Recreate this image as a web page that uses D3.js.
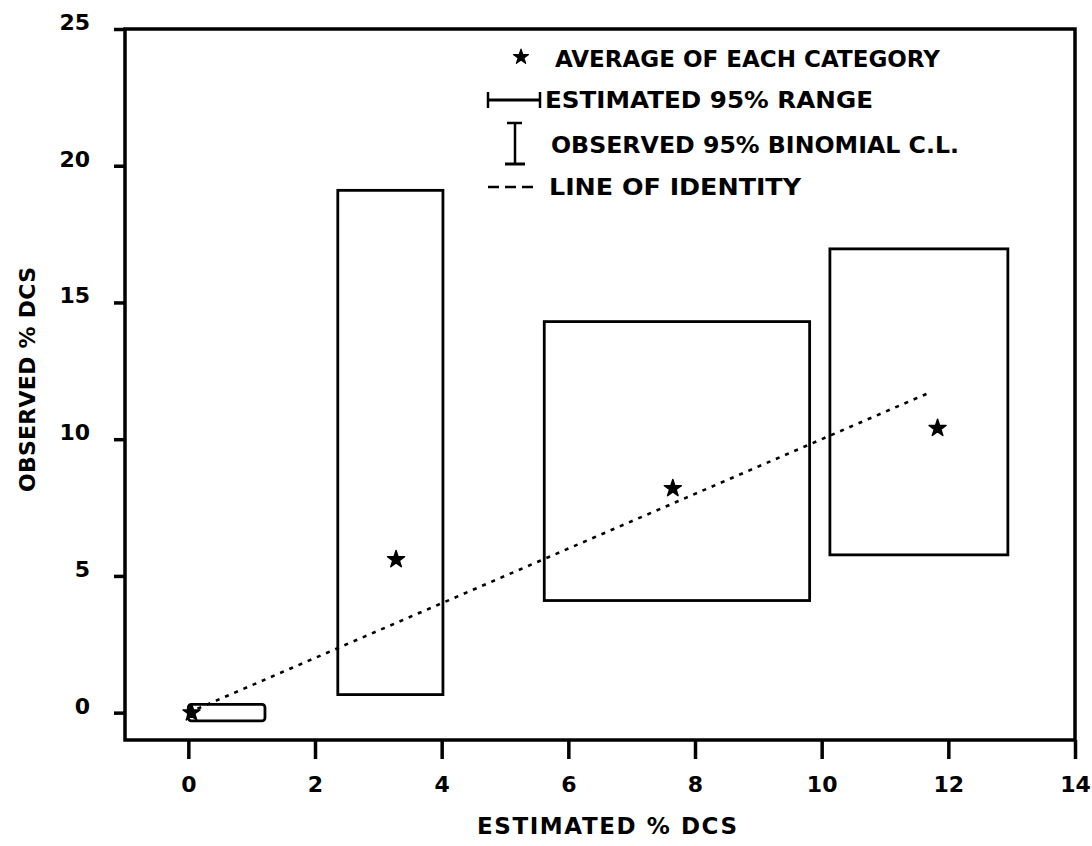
<!DOCTYPE html>
<html>
<head>
<meta charset="utf-8">
<script src="https://cdn.jsdelivr.net/npm/d3@7"></script>
<style>
  html, body { margin: 0; padding: 0; background: #fff; }
  svg { display: block; }
  text { font-family: "DejaVu Sans", sans-serif; fill: #000; }
</style>
</head>
<body>
<script>
// Category averages (estimated % DCS vs observed % DCS)
const avgEstimated = [0.05, 3.28, 7.65, 11.83];
const avgObserved  = [0.0, 5.6, 8.2, 10.4];

// Estimated 95% range (horizontal extent of each box)
const estLow  = [0.0, 2.36, 5.62, 10.13];
const estHigh = [1.21, 4.02, 9.81, 12.94];

// Observed 95% binomial confidence limits (vertical extent of each box)
const obsLow  = [-0.3, 0.66, 4.1, 5.77];
const obsHigh = [0.3, 19.1, 14.3, 16.96];

// Line of identity end points
const identity = [0, 11.7];

const xTicks = [0, 2, 4, 6, 8, 10, 12, 14];
const yTicks = [0, 5, 10, 15, 20, 25];

const legendLabels = [
  "AVERAGE OF EACH CATEGORY",
  "ESTIMATED 95% RANGE",
  "OBSERVED 95% BINOMIAL C.L.",
  "LINE OF IDENTITY"
];

const W = 1092, H = 846;
const plot = { left: 125, right: 1075, top: 29, bottom: 740 };

const x = d3.scaleLinear().domain([-1, 14]).range([plot.left, plot.right]);
const y = d3.scaleLinear().domain([-1, 25]).range([plot.bottom, plot.top]);

const svg = d3.select("body").append("svg")
  .attr("width", W).attr("height", H);

// Frame
svg.append("rect")
  .attr("x", plot.left).attr("y", plot.top)
  .attr("width", plot.right - plot.left).attr("height", plot.bottom - plot.top)
  .attr("fill", "none").attr("stroke", "#000").attr("stroke-width", 3.5);

// X axis
const xAxis = svg.append("g")
  .attr("transform", `translate(0,${plot.bottom})`)
  .call(d3.axisBottom(x).tickValues(xTicks).tickSize(19).tickPadding(17).tickFormat(d3.format("d")));
xAxis.select(".domain").remove();
xAxis.selectAll(".tick line").attr("stroke", "#000").attr("stroke-width", 3.5);
xAxis.selectAll(".tick text").attr("font-size", 22).attr("font-weight", 700);

// Y axis (labels sit slightly above their ticks)
const yAxis = svg.append("g")
  .attr("transform", `translate(${plot.left},0)`)
  .call(d3.axisLeft(y).tickValues(yTicks).tickSize(11).tickPadding(24).tickFormat(d3.format("d")));
yAxis.select(".domain").remove();
yAxis.selectAll(".tick line").attr("stroke", "#000").attr("stroke-width", 3.5);
yAxis.selectAll(".tick text").attr("font-size", 22).attr("font-weight", 700)
  .attr("dy", "0.02em");

// Axis titles
svg.append("text")
  .attr("x", 477).attr("y", 834)
  .attr("font-size", 23).attr("font-weight", 700)
  .attr("textLength", 260).attr("lengthAdjust", "spacing")
  .text("ESTIMATED % DCS");

svg.append("text")
  .attr("transform", `translate(35,492) rotate(-90)`)
  .attr("font-size", 22).attr("font-weight", 700)
  .attr("textLength", 225).attr("lengthAdjust", "spacing")
  .text("OBSERVED % DCS");

// Boxes: estimated range x observed confidence limits
const idx = d3.range(avgEstimated.length);
svg.append("g").selectAll("rect").data(idx).join("rect")
  .attr("x", i => x(estLow[i]))
  .attr("y", i => y(obsHigh[i]))
  .attr("width", i => x(estHigh[i]) - x(estLow[i]))
  .attr("height", i => y(obsLow[i]) - y(obsHigh[i]))
  .attr("rx", i => i === 0 ? 3 : 0)
  .attr("fill", "none").attr("stroke", "#000").attr("stroke-width", 2.8);

// Line of identity
svg.append("line")
  .attr("x1", x(identity[0])).attr("y1", y(identity[0]))
  .attr("x2", x(identity[1])).attr("y2", y(identity[1]))
  .attr("stroke", "#000").attr("stroke-width", 2.6)
  .attr("stroke-dasharray", "4,6");

// Category averages
const star = d3.symbol().type(d3.symbolStar).size(90);
svg.append("g").selectAll("path").data(idx).join("path")
  .attr("transform", i => `translate(${x(avgEstimated[i])},${y(avgObserved[i])})`)
  .attr("d", star)
  .attr("fill", "#000").attr("stroke", "#000").attr("stroke-width", 1.5)
  .attr("stroke-linejoin", "round");

// Legend
const lg = svg.append("g");
const baselines = [67, 108, 153, 195];
lg.append("path")
  .attr("transform", "translate(521,57)")
  .attr("d", d3.symbol().type(d3.symbolStar).size(70)())
  .attr("fill", "#000").attr("stroke", "#000").attr("stroke-width", 1.2)
  .attr("stroke-linejoin", "round");

// estimated range glyph
lg.append("line").attr("x1", 488).attr("x2", 540).attr("y1", 100).attr("y2", 100)
  .attr("stroke", "#000").attr("stroke-width", 3);
lg.append("line").attr("x1", 488).attr("x2", 488).attr("y1", 92).attr("y2", 108)
  .attr("stroke", "#000").attr("stroke-width", 2.5);
lg.append("line").attr("x1", 540).attr("x2", 540).attr("y1", 92).attr("y2", 108)
  .attr("stroke", "#000").attr("stroke-width", 2.5);

// observed CL glyph
lg.append("line").attr("x1", 515).attr("x2", 515).attr("y1", 122).attr("y2", 164)
  .attr("stroke", "#000").attr("stroke-width", 2.5);
lg.append("line").attr("x1", 507).attr("x2", 522).attr("y1", 123).attr("y2", 123)
  .attr("stroke", "#000").attr("stroke-width", 2.5);
lg.append("line").attr("x1", 505).attr("x2", 525).attr("y1", 164).attr("y2", 164)
  .attr("stroke", "#000").attr("stroke-width", 3);

// identity glyph
lg.append("line").attr("x1", 488).attr("x2", 534).attr("y1", 187).attr("y2", 187)
  .attr("stroke", "#000").attr("stroke-width", 2.6)
  .attr("stroke-dasharray", "11,6");

const textX = [555, 545, 551, 549];
const textW = [385, 328, 408, 252];
lg.selectAll("text").data(legendLabels).join("text")
  .attr("x", (d, i) => textX[i])
  .attr("y", (d, i) => baselines[i])
  .attr("font-size", 23).attr("font-weight", 700)
  .attr("textLength", (d, i) => textW[i]).attr("lengthAdjust", "spacingAndGlyphs")
  .text(d => d);
</script>
</body>
</html>
